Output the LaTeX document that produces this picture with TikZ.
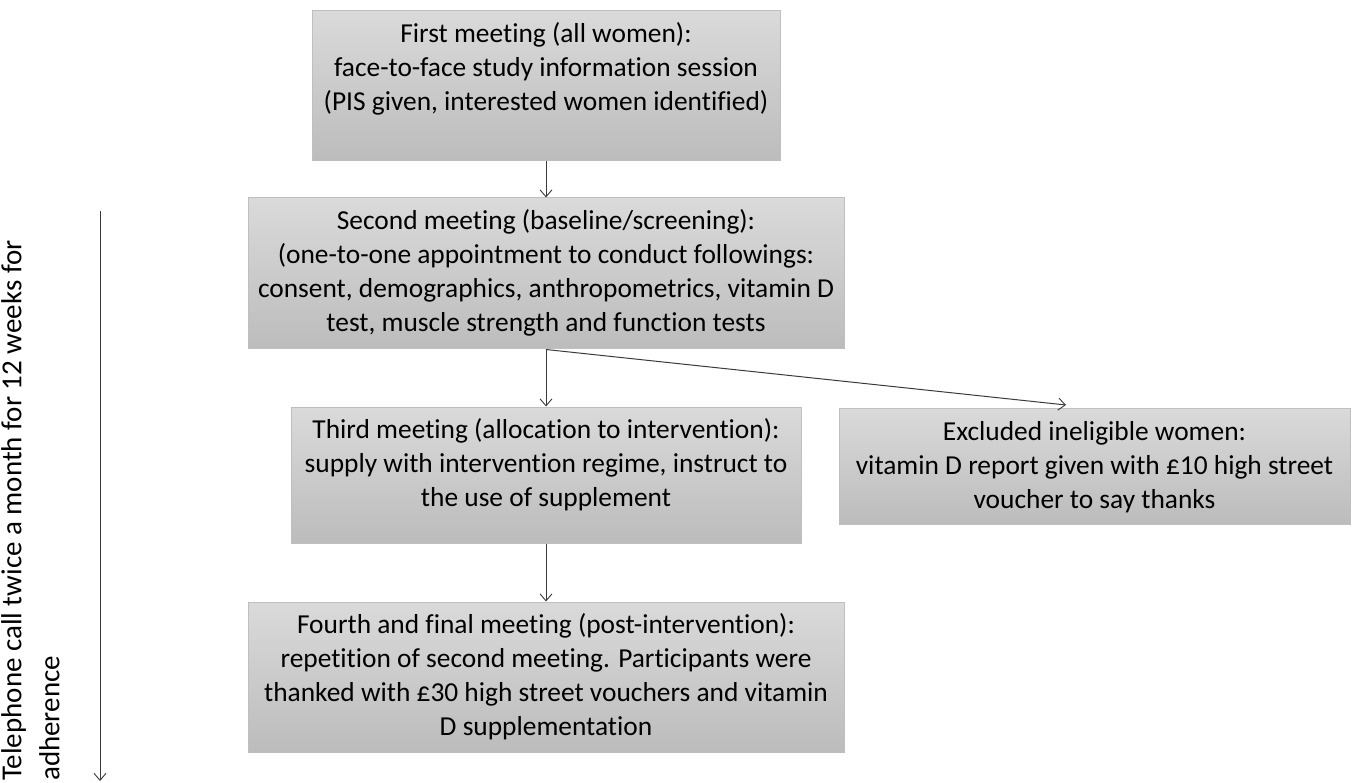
\documentclass[tikz,border=0pt]{standalone}
\usepackage{fontspec}
\setmainfont{Carlito}[Ligatures=NoCommon]
\usetikzlibrary{arrows.meta}
\tikzset{
  box/.style={draw=boxborder, line width=1pt, top color=boxtop, bottom color=boxbot, minimum width=#1, inner sep=0pt},
  txt/.style={align=center, font=\fontsize{27.4}{34}\selectfont, text=black, inner sep=0pt},
  conn/.style={draw=arrowgray, line width=1pt, -{Straight Barb[length=7pt,width=12pt,line width=0.9pt]}}
}
\definecolor{boxborder}{HTML}{BFBFBF}
\definecolor{boxtop}{HTML}{DADADA}
\definecolor{boxbot}{HTML}{BCBCBC}
\definecolor{arrowgray}{HTML}{3A3A3A}
\begin{document}
\begin{tikzpicture}[x=1pt,y=-1pt]
\useasboundingbox (0,0) rectangle (1357,783);
% boxes
\node[box=468pt, minimum height=150pt] (b1) at (546,86) {};
\node[box=596pt, minimum height=151pt] (b2) at (546,273.5) {};
\node[box=510pt, minimum height=136pt] (b3) at (546,475) {};
\node[box=511pt, minimum height=116pt] (b4) at (1094.5,466) {};
\node[box=596pt, minimum height=150pt] (b5) at (546,677) {};
% texts
\node[txt] (t1) at (546,69) {First meeting (all women):\\face-to-face study information session\\(PIS given, interested women identified)};
\node[txt] (t2) at (546,273) {Second meeting (baseline/screening):\\(one-to-one appointment to conduct followings:\\consent, demographics, anthropometrics, vitamin D\\test, muscle strength and function tests};
\node[txt] (t3) at (546,465) {Third meeting (allocation to intervention):\\supply with intervention regime, instruct to\\the use of supplement};
\node[txt] (t4) at (1094.5,467) {Excluded ineligible women:\\vitamin D report given with £10 high street\\voucher to say thanks};
\node[txt] (t5) at (546,677) {Fourth and final meeting (post-intervention):\\repetition of second meeting. Participants were\\thanked with £30 high street vouchers and vitamin\\D supplementation};
% side note
\node[txt, font=\fontsize{29}{38}\selectfont, align=left, rotate=90, anchor=north west] (side) at (1,781) {Telephone call twice a month for 12 weeks for\\\hspace*{0pt}adherence};
\coordinate (s0) at (100,211);
\coordinate (s1) at (100,781);
\coordinate (e4) at (1066,405);
% connectors
\draw[conn] (b1.south) -- (b2.north);
\draw[conn] (b2.south) -- (b3.north);
\draw[conn] (b2.south) -- (e4);
\draw[conn] (b3.south) -- (b5.north);
\draw[conn] (s0) -- (s1);
\end{tikzpicture}
\end{document}
